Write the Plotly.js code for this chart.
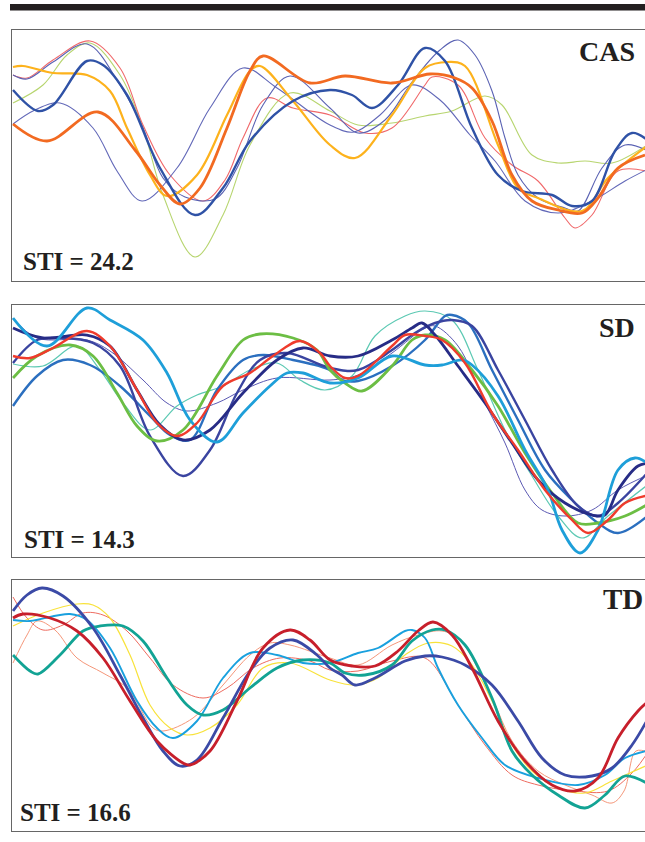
<!DOCTYPE html>
<html>
<head>
<meta charset="utf-8">
<script src="https://cdn.plot.ly/plotly-3.0.1.min.js"></script>
<style>
html,body{margin:0;padding:0;background:#fff;overflow:hidden;}
#chart{width:660px;height:842px;}
</style>
</head>
<body>
<div id="chart"></div>
<script>
// ---------- Panel labels ----------
const panelNames = ["CAS", "SD", "TD"];
const stiValues = ["24.2", "14.3", "16.6"];

// ---------- Panel 1: CAS ----------
const casOrangeX = [1,35,86,123,148,168,188,215,238,251,298,333,380,418,443,460,480,500,520,546,570,586,606,633];
const casOrangeY = [157,140,169,131,96,77,93,153,210,225,198,205,198,207,203,193,160,106,80,71,68,83,113,126];
const casAmberX = [1,11,41,75,98,115,138,155,185,215,238,248,281,318,343,380,413,436,453,486,506,526,570,596,638];
const casAmberY = [214,215,208,206,190,153,106,85,106,166,210,215,180,136,123,166,213,219,215,136,93,83,70,103,137];
const casRedX = [1,15,41,78,108,131,158,191,213,231,255,281,318,353,380,413,420,446,473,500,526,553,563,580,606,638];
const casRedY = [206,203,221,240,213,156,106,80,101,143,183,173,166,148,153,196,204,196,143,116,100,63,53,66,110,109];
const casGreenX = [1,31,55,78,108,131,151,183,211,238,278,318,346,380,413,440,473,490,520,546,573,600,638];
const casGreenY = [178,196,226,238,206,153,86,24,66,136,188,170,156,158,165,170,185,176,126,118,120,118,138];
const casBlueX = [1,26,41,75,91,115,148,183,211,238,281,318,340,360,386,413,433,460,486,510,540,560,580,603,620,638];
const casBlueY = [191,170,176,220,216,186,113,66,93,140,180,191,186,173,196,233,220,153,106,90,86,75,80,130,148,139];
const casThin1X = [1,15,41,75,108,131,151,173,203,225,251,278,318,346,373,400,428,446,463,480,493,506,526,553,566,590,613,638];
const casThin1Y = [206,202,219,237,196,153,103,84,82,113,176,205,173,148,161,199,231,241,226,190,143,106,83,73,70,113,136,129];
const casThin2X = [1,23,48,81,105,130,165,198,231,265,318,342,368,400,428,458,483,513,546,580,613,638];
const casThin2Y = [157,171,178,153,110,80,113,173,213,193,156,149,166,196,181,146,120,80,68,80,100,113];

// ---------- Panel 2: SD ----------
const sdCyanX = [1,35,75,98,131,155,178,205,231,258,275,291,318,346,380,413,430,450,460,486,513,536,550,568,586,606,623,638];
const sdCyanY = [239,211,249,237,217,184,137,115,144,171,184,184,174,179,201,192,192,197,192,161,107,67,27,4,27,87,99,92];
const sdNavyX = [1,31,75,98,125,148,171,198,231,265,291,318,346,380,400,410,423,446,473,500,526,553,580,593,606,626,638];
const sdNavyY = [229,219,222,211,167,132,117,127,164,197,209,201,201,217,229,234,222,191,154,114,77,54,42,42,67,91,94];
const sdDarkX = [1,25,48,81,108,138,171,198,225,248,275,318,346,380,403,423,440,460,486,513,540,566,586,606,638];
const sdDarkY = [194,217,219,214,191,121,81,107,164,197,204,189,187,207,224,234,237,231,187,137,87,51,41,54,87];
const sdMidBlueX = [1,25,51,78,108,138,158,178,205,231,251,281,318,330,346,380,413,433,440,456,480,506,533,560,586,606,638];
const sdMidBlueY = [151,181,197,192,171,141,122,117,167,197,202,197,187,177,176,191,217,241,242,234,187,137,87,57,34,24,43];
const sdRedX = [1,18,41,75,98,125,145,165,185,211,238,261,288,308,318,333,346,380,393,413,430,453,480,506,533,560,576,596,613,638];
const sdRedY = [201,199,209,226,211,167,134,121,134,171,184,201,216,204,191,179,181,211,222,221,217,194,144,107,67,37,24,37,54,62];
const sdGreenX = [1,25,58,81,105,125,145,171,205,231,248,281,305,318,333,350,380,400,413,433,460,486,513,540,566,586,613,638];
const sdGreenY = [179,201,212,201,164,131,116,127,181,217,223,219,207,187,174,166,191,217,222,217,187,151,104,64,34,34,41,54];
const sdTealX = [1,31,65,88,111,138,165,185,211,238,265,288,313,340,363,393,413,440,466,493,520,546,570,596,638];
const sdTealY = [193,191,211,187,154,127,151,162,171,187,194,177,167,181,221,241,246,237,187,127,81,41,19,41,74];
const sdPurpleX = [1,25,75,98,131,155,175,205,231,265,318,346,380,413,423,446,473,493,513,530,553,580,606,638];
const sdPurpleY = [239,219,217,206,177,154,146,154,167,179,177,182,204,229,231,211,154,114,67,47,41,47,67,83];

// ---------- Panel 3: TD ----------
const tdNavyX = [1,15,30,51,81,108,131,151,168,185,211,238,258,281,305,318,330,343,363,393,413,430,453,480,506,530,553,580,600,620,638];
const tdNavyY = [220,236,243,235,203,156,113,80,65,71,113,160,183,191,176,163,156,146,153,170,175,174,166,146,110,73,56,55,63,86,116];
const tdRedX = [1,11,38,65,91,118,145,171,178,198,225,251,278,298,318,340,363,386,406,421,440,460,486,513,540,563,586,606,626,638];
const tdRedY = [213,217,213,200,173,130,90,68,66,80,130,183,201,191,171,165,165,180,200,209,196,163,110,70,46,40,53,93,120,131];
const tdTealX = [1,18,26,48,71,88,111,131,155,175,191,211,238,265,291,318,333,353,380,400,420,433,453,480,500,520,546,573,593,613,638];
const tdTealY = [176,160,157,176,200,205,205,190,153,126,116,121,143,163,171,168,158,156,166,190,201,201,186,133,80,56,36,23,36,55,46];
const tdCyanX = [1,18,58,75,98,125,145,161,185,211,238,265,291,318,346,366,393,400,413,426,446,470,493,526,566,593,613,638];
const tdCyanY = [211,210,217,211,183,130,103,93,110,153,178,176,168,168,178,183,200,201,193,163,126,93,66,53,46,56,73,81];
const tdYellowX = [1,31,65,81,98,118,138,158,175,198,225,251,278,318,343,366,393,416,440,460,480,500,520,546,573,600,638];
const tdYellowY = [205,218,227,226,213,176,126,103,96,103,126,163,168,151,146,153,176,188,185,166,130,86,60,43,38,50,67];
const tdSalmonX = [1,15,31,51,71,91,115,138,161,191,215,241,268,298,318,346,380,413,446,473,500,526,563,596,620,638];
const tdSalmonY = [234,213,201,206,218,216,200,173,146,133,143,163,173,170,161,160,170,173,126,86,56,46,40,40,58,82];
const tdPeachX = [1,15,25,43,65,91,115,141,151,181,211,238,258,278,318,346,380,406,430,448,480,500,526,553,580,600,612,624,638];
const tdPeachY = [168,196,210,201,173,158,143,103,100,113,146,176,188,186,173,166,186,196,200,191,133,90,60,46,36,28,40,80,78];

// ---------- Build ----------
const W = 660, H = 842;
const px2x = p => p / W;
const py2y = p => 1 - p / H;
const SERIF = "'Liberation Serif', 'Times New Roman', Times, serif";

// panel frames (pixel rows of the plot frame)
const frames = [[30, 281], [305, 557], [580, 831]];

function tr(x, y, color, width, axis) {
  return {x: x, y: y, type: "scatter", mode: "lines",
          line: {color: color, width: width, shape: "spline", smoothing: 1},
          xaxis: "x" + (axis === 1 ? "" : axis), yaxis: "y" + (axis === 1 ? "" : axis),
          hoverinfo: "skip", showlegend: false};
}

const data = [
  // CAS
  tr(casGreenX, casGreenY, "#b7d56f", 1.1, 1),
  tr(casRedX, casRedY, "#f0686a", 1.1, 1),
  tr(casThin2X, casThin2Y, "#6268b8", 1.1, 1),
  tr(casThin1X, casThin1Y, "#5a62b3", 1.1, 1),
  tr(casAmberX, casAmberY, "#fdb21c", 2.2, 1),
  tr(casBlueX, casBlueY, "#2f52a6", 2.4, 1),
  tr(casOrangeX, casOrangeY, "#f26a21", 2.8, 1),
  // SD
  tr(sdPurpleX, sdPurpleY, "#5b59b3", 1.0, 2),
  tr(sdTealX, sdTealY, "#5cc9b3", 1.2, 2),
  tr(sdMidBlueX, sdMidBlueY, "#2b6fbf", 2.4, 2),
  tr(sdDarkX, sdDarkY, "#3a44a0", 2.4, 2),
  tr(sdGreenX, sdGreenY, "#6cbe44", 2.8, 2),
  tr(sdNavyX, sdNavyY, "#272c86", 2.8, 2),
  tr(sdCyanX, sdCyanY, "#1e9fd9", 2.8, 2),
  tr(sdRedX, sdRedY, "#ef3b2c", 2.4, 2),
  // TD
  tr(tdPeachX, tdPeachY, "#f5977a", 1.0, 3),
  tr(tdSalmonX, tdSalmonY, "#ee6b5f", 1.0, 3),
  tr(tdYellowX, tdYellowY, "#f8e23a", 1.2, 3),
  tr(tdCyanX, tdCyanY, "#19a0de", 1.9, 3),
  tr(tdTealX, tdTealY, "#12a394", 2.8, 3),
  tr(tdNavyX, tdNavyY, "#3b4aa6", 2.8, 3),
  tr(tdRedX, tdRedY, "#c71f2b", 2.8, 3)
];

const axisBase = {showgrid: false, zeroline: false, showticklabels: false, ticks: "",
                  showline: true, mirror: true, linecolor: "#666666", linewidth: 1.4, fixedrange: true};

const layout = {
  width: W, height: H,
  margin: {l: 0, r: 0, t: 0, b: 0},
  paper_bgcolor: "#ffffff", plot_bgcolor: "#ffffff",
  showlegend: false,
  shapes: [{type: "rect", xref: "paper", yref: "paper",
            x0: px2x(10), x1: 1, y0: py2y(10.5), y1: py2y(4),
            fillcolor: "#231f20", line: {width: 0}}],
  annotations: []
};

const xDom = [px2x(12), px2x(655)];
frames.forEach((f, i) => {
  const n = i === 0 ? "" : String(i + 1);
  layout["xaxis" + n] = Object.assign({}, axisBase, {domain: xDom, range: [0, 643], anchor: "y" + n});
  layout["yaxis" + n] = Object.assign({}, axisBase, {domain: [py2y(f[1]), py2y(f[0])], range: [0, f[1] - f[0]], anchor: "x" + n});
});

const nameRight = [637, 637, 645];
const nameMid = [52, 327, 599];
const nameSize = [28, 28, 29];
const stiLeft = [21, 22, 18];
const stiMid = [261, 539, 812];
panelNames.forEach((nm, i) => {
  layout.annotations.push({xref: "paper", yref: "paper", x: px2x(nameRight[i]), y: py2y(nameMid[i]),
    xanchor: "right", yanchor: "middle", showarrow: false, text: nm,
    font: {family: SERIF, size: nameSize[i], color: "#231f20", weight: 700}});
  layout.annotations.push({xref: "paper", yref: "paper", x: px2x(stiLeft[i]), y: py2y(stiMid[i]),
    xanchor: "left", yanchor: "middle", showarrow: false, text: "STI = " + stiValues[i],
    font: {family: SERIF, size: 25, color: "#231f20", weight: 700}});
});

Plotly.newPlot("chart", data, layout, {staticPlot: true, displayModeBar: false});
</script>
</body>
</html>
